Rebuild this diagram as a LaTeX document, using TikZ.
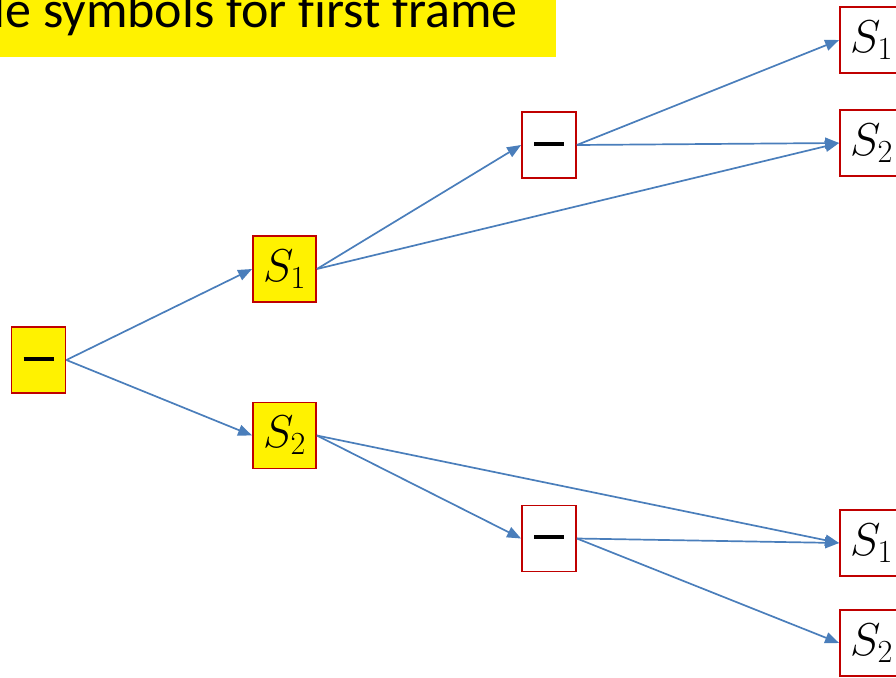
\RequirePackage{fix-cm}
\documentclass[tikz,border=0pt]{standalone}
\usepackage{fontspec}
\setmainfont{Carlito}[Ligatures=NoCommon]
\usetikzlibrary{arrows.meta}
\definecolor{boxred}{HTML}{C00000}
\definecolor{arrowblue}{HTML}{4A7EBB}
\newcommand{\dashbar}{\rule[0.5ex]{30pt}{4pt}}
\newcommand{\symlab}[1]{\fontsize{46}{46}\selectfont$S_{#1}$}

\begin{document}
\begin{tikzpicture}[
    x=1pt, y=-1pt,
    sym/.style={
        draw=boxred,
        line width=1.8pt,
        minimum width=54pt,  % box size as on the slide
        minimum height=66pt,
        inner sep=0pt
    },
    hot/.style={sym, fill=yellow},  % symbols already chosen
    link/.style={arrowblue, line width=1.7pt, -{Triangle[length=14pt,width=11pt]}}
]
\useasboundingbox (0,0) rectangle (896,677);
\clip (0,0) rectangle (896,677);

% banner, cut at the slide edge
\fill[yellow] (-20,-20) rectangle (556,57);
\node[anchor=base east, inner sep=0pt, font=\fontsize{52}{52}\selectfont] (title) at (518,28) {Possible symbols for first frame};

% tree
\node[hot] (root) at (38.5,360) {\dashbar};
\node[hot, minimum width=63pt] (s1) at (284.5,269) {\symlab1};
\node[hot, minimum width=63pt] (s2) at (284.5,435.5) {\symlab2};
\node[sym] (d1) at (549,145) {\dashbar};
\node[sym] (d2) at (549,538.5) {\dashbar};
\node[sym, minimum width=63pt] (t1) at (871.5,40) {\symlab1};
\node[sym, minimum width=63pt] (t2) at (871.5,143) {\symlab2};
\node[sym, minimum width=63pt] (b1) at (871.5,543) {\symlab1};
\node[sym, minimum width=63pt] (b2) at (871.5,643) {\symlab2};

\draw[link] (root.east) -- (s1.west);
\draw[link] (root.east) -- (s2.west);
\draw[link] (s1.east) -- (d1.west);
\draw[link] (s1.east) -- (t2.west);
\draw[link] (d1.east) -- (t1.west);
\draw[link] (d1.east) -- (t2.west);
\draw[link] (s2.east) -- (d2.west);
\draw[link] (s2.east) -- (b1.west);
\draw[link] (d2.east) -- (b1.west);
\draw[link] (d2.east) -- (b2.west);
\end{tikzpicture}
\end{document}
